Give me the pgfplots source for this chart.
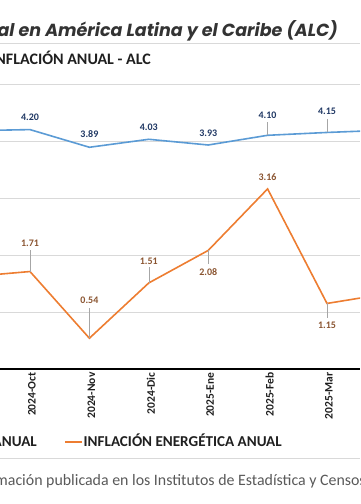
\documentclass[border=0pt]{standalone}
\usepackage{pgfplots}
\pgfplotsset{compat=1.18}
\usepackage{pgfplotstable}
\usepackage{fontspec}
\setmainfont{Carlito}
\newfontfamily\poppins{Poppins}

\definecolor{blueline}{HTML}{5B9BD5}
\definecolor{orangeline}{HTML}{ED7D31}
\definecolor{bluelab}{HTML}{203864}
\definecolor{orangelab}{HTML}{8A5430}
\definecolor{gridgray}{HTML}{D9D9D9}
\definecolor{leadgray}{HTML}{A6A6A6}
\definecolor{txt}{HTML}{1F1F1F}
\definecolor{titletxt}{HTML}{333333}
\definecolor{notetxt}{HTML}{595959}

% x: 0=2024-Sep ... 7=2025-Abr ; off = label shift (pt), ep/em = leader length
\pgfplotstableread{
x y off ep em
0 4.18 12 0 0
1 4.20 12.5 0 0
2 3.89 13 0 0
3 4.03 12 0 0
4 3.93 12 0 0
5 4.10 20 0.23 0
6 4.15 21 0.23 0
7 4.19 21 0.23 0
}\bluedata

\pgfplotstableread{
x y off ep em
0 1.62 12 0 0
1 1.71 28 0.37 0
2 0.54 38 0.53 0
3 1.51 22 0.28 0
4 2.08 -22 0 0.23
5 3.16 12 0 0
6 1.15 -22 0 0.25
7 1.32 12 0 0
}\orangedata

\begin{document}
\begin{tikzpicture}[x=1pt,y=1pt]
\useasboundingbox (0,0) rectangle (360,504);
\clip (0,0) rectangle (360,504);

% title and rules
\node[anchor=base east, inner sep=0, text=titletxt] at (338,467)
  {\poppins\bfseries\itshape\fontsize{17.5}{19}\selectfont Inflación energética e inflación general en América Latina y el Caribe (ALC)};
\draw[gridgray, line width=0.8pt] (0,461) -- (360,461);
\node[anchor=base east, inner sep=0, text=txt] at (151,439)
  {\bfseries\fontsize{16}{18}\selectfont INFLACIÓN ENERGÉTICA E INFLACIÓN ANUAL - ALC};

\begin{axis}[
  at={(0pt,135pt)}, anchor=south west,
  scale only axis, width=360pt, height=285pt,
  xmin=0.4949, xmax=6.5556, ymin=0, ymax=5,
  axis line style={draw=none},
  ytick={1,2,3,4,5}, yticklabels={},
  ymajorgrids, major grid style={gridgray, line width=0.8pt},
  extra y ticks={0}, extra y tick labels={},
  extra y tick style={grid=major, major grid style={black, line width=1.4pt}},
  xtick={1,2,3,4,5,6},
  xticklabels={2024-Oct,2024-Nov,2024-Dic,2025-Ene,2025-Feb,2025-Mar},
  major tick style={draw=none},
  xticklabel style={rotate=90, anchor=east, text=txt, yshift=-2pt,
    font=\bfseries\fontsize{11.5}{12}\selectfont},
  clip=true,
]
\addplot[blueline, line width=1.6pt, mark=none,
  point meta=y,
  visualization depends on={\thisrow{off}\as\myoff},
  nodes near coords={\pgfmathprintnumber[fixed,fixed zerofill,precision=2,assume math mode=true]{\pgfplotspointmeta}},
  every node near coord/.append style={anchor=center, yshift=\myoff pt, text=bluelab,
    font=\bfseries\fontsize{10}{10}\selectfont},
  error bars/.cd, y dir=both, y explicit, error mark=none,
  error bar style={leadgray, line width=0.6pt}]
  table[x=x, y=y, y error plus=ep, y error minus=em]{\bluedata};
\addplot[orangeline, line width=1.6pt, mark=none,
  point meta=y,
  visualization depends on={\thisrow{off}\as\myoff},
  nodes near coords={\pgfmathprintnumber[fixed,fixed zerofill,precision=2,assume math mode=true]{\pgfplotspointmeta}},
  every node near coord/.append style={anchor=center, yshift=\myoff pt, text=orangelab,
    font=\bfseries\fontsize{10}{10}\selectfont},
  error bars/.cd, y dir=both, y explicit, error mark=none,
  error bar style={leadgray, line width=0.6pt}]
  table[x=x, y=y, y error plus=ep, y error minus=em]{\orangedata};
\end{axis}

% legend
\draw[blueline, line width=1.6pt] (-110,62) -- (-93,62);
\node[anchor=base east, inner sep=0, text=txt] at (37,57)
  {\bfseries\fontsize{15.1}{17}\selectfont INFLACIÓN ANUAL};
\draw[orangeline, line width=1.6pt] (65,62) -- (82,62);
\node[anchor=base west, inner sep=0, text=txt] at (83.5,57)
  {\bfseries\fontsize{15.1}{17}\selectfont INFLACIÓN ENERGÉTICA ANUAL};

% source note
\draw[gridgray, line width=0.8pt] (0,46) -- (360,46);
\node[anchor=base west, inner sep=0, text=notetxt] at (-5,19)
  {\fontsize{15.9}{18}\selectfont mación publicada en los Institutos de Estadística y Censos de cada país.};
\node[anchor=base east, inner sep=0, text=notetxt] at (-5,19)
  {\fontsize{15.9}{18}\selectfont Fuente: Infor};
\end{tikzpicture}
\end{document}
